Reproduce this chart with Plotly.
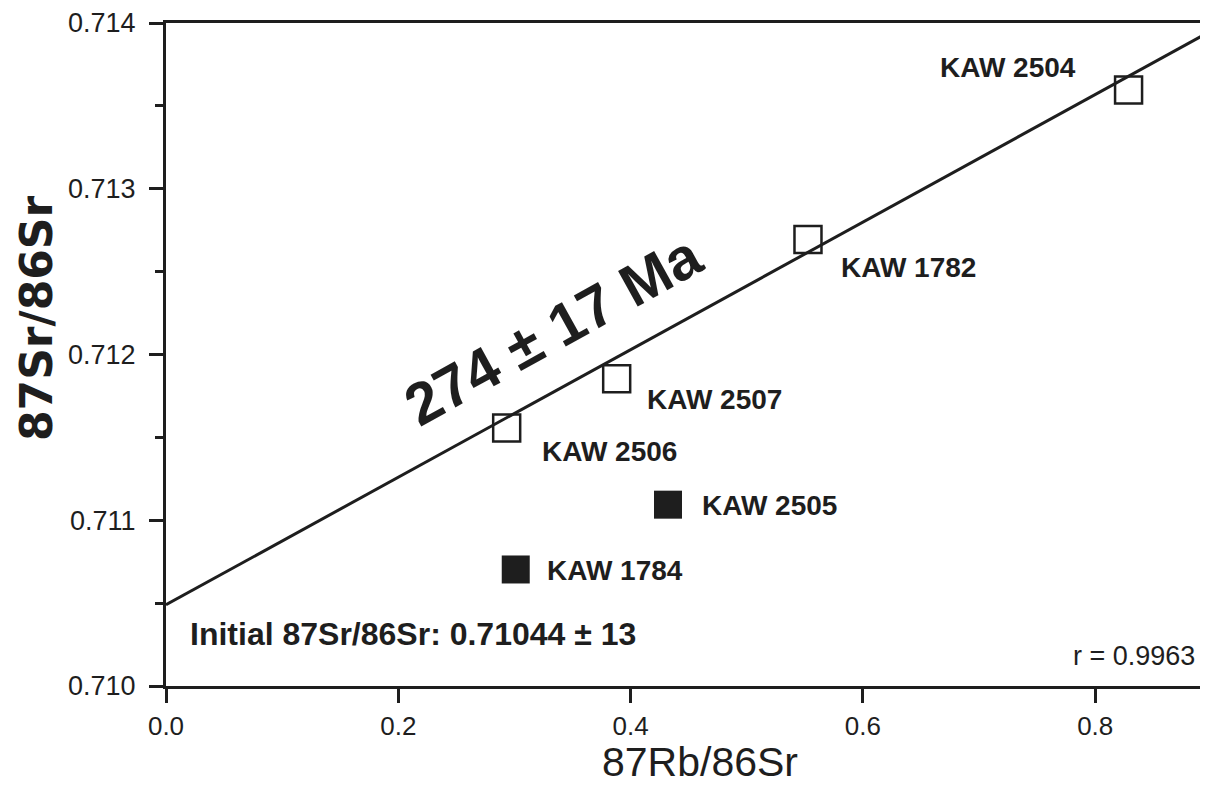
import plotly.graph_objects as go

# samples (87Rb/86Sr, 87Sr/86Sr)
open_names = ["KAW 2504", "KAW 1782", "KAW 2507", "KAW 2506"]
open_rb = [0.8287, 0.5527, 0.388, 0.2933]
open_sr = [0.713596, 0.712694, 0.711853, 0.711557]

filled_names = ["KAW 2505", "KAW 1784"]
filled_rb = [0.4322, 0.3011]
filled_sr = [0.711094, 0.710703]

# isochron as drawn
fit_rb = [0.0, 0.8966]
fit_sr = [0.71049, 0.71394]

ink = "#1e1e1e"

fig = go.Figure()

fig.add_trace(go.Scatter(x=fit_rb, y=fit_sr, mode="lines",
                         line=dict(color=ink, width=3), hoverinfo="skip"))

fig.add_trace(go.Scatter(x=open_rb, y=open_sr, mode="markers", text=open_names,
                         marker=dict(symbol="square-open", size=27, color=ink,
                                     line=dict(width=2.5, color=ink))))

fig.add_trace(go.Scatter(x=filled_rb, y=filled_sr, mode="markers", text=filled_names,
                         marker=dict(symbol="square", size=28, color=ink,
                                     line=dict(width=0))))

# label offsets in pixels (anchor, xshift, yshift)
label_pos = {
  "KAW 2504": ("right", -51, 22),
  "KAW 1782": ("left", 31, -28),
  "KAW 2507": ("left", 28, -21),
  "KAW 2506": ("left", 33, -24),
  "KAW 2505": ("left", 32, -1),
  "KAW 1784": ("left", 29, -1),
}

label_font = dict(family="Liberation Sans, Arial", size=28, color=ink, weight="bold")

for names, xs, ys in [(open_names, open_rb, open_sr), (filled_names, filled_rb, filled_sr)]:
  for name, x, y in zip(names, xs, ys):
    anchor, dx, dy = label_pos[name]
    fig.add_annotation(x=x, y=y, text=name, showarrow=False, xanchor=anchor,
                       yanchor="middle", xshift=dx, yshift=dy, font=label_font)

# age along the isochron
fig.add_annotation(xref="paper", yref="paper", x=0.3752, y=0.537, text="274 ± 17 Ma",
                   showarrow=False, textangle=-29,
                   font=dict(family="Liberation Sans, Arial", size=59, color=ink, weight="bold"))

fig.add_annotation(xref="paper", yref="paper", x=0.0213, y=0.0784, xanchor="left",
                   yanchor="middle", text="Initial 87Sr/86Sr: 0.71044 ± 13", showarrow=False,
                   font=dict(family="Liberation Sans, Arial", size=32, color=ink, weight="bold"))

fig.add_annotation(xref="paper", yref="paper", x=0.997, y=0.0452, xanchor="right",
                   yanchor="middle", text="r = 0.9963", showarrow=False,
                   font=dict(family="Liberation Sans, Arial", size=27, color=ink))

# axis titles
fig.add_annotation(xref="paper", yref="paper", x=0.5164, y=-0.1147, text="87Rb/86Sr",
                   showarrow=False, yanchor="middle",
                   font=dict(family="Liberation Sans, Arial", size=41, color=ink))
fig.add_annotation(xref="paper", yref="paper", x=-0.1257, y=0.555, text="87Sr/86Sr",
                   showarrow=False, textangle=-90, xanchor="center", yanchor="middle",
                   font=dict(family="DejaVu Sans", size=44, color=ink, weight="bold"))

# page body keeps an 8 px margin, so the figure is a bit smaller than the window
fig.update_layout(
  width=1192, height=779,
  margin=dict(l=158, r=0, t=15, b=101),
  paper_bgcolor="white", plot_bgcolor="white",
  showlegend=False,
  font=dict(family="Liberation Sans, Arial", color=ink),
  xaxis=dict(range=[0, 0.8902], dtick=0.2, tick0=0, tickformat=".1f",
             showgrid=False, zeroline=False, showline=True, linewidth=3, linecolor=ink,
             mirror=True, ticks="outside", ticklen=14, tickwidth=2.5, tickcolor=ink,
             ticklabelstandoff=1, ticklabeloverflow="allow",
             tickfont=dict(size=26, color=ink)),
  yaxis=dict(range=[0.710, 0.714], dtick=0.001, tick0=0.710, tickformat=".3f",
             showgrid=False, zeroline=False, showline=True, linewidth=3, linecolor=ink,
             mirror=False, ticks="outside", ticklen=14, tickwidth=2.5, tickcolor=ink,
             ticklabelstandoff=8, ticklabeloverflow="allow",
             tickfont=dict(size=27, color=ink),
             minor=dict(dtick=0.0005, ticks="outside", ticklen=8, tickwidth=2.5,
                        tickcolor=ink, showgrid=False)),
)

fig.write_html("out.html")
